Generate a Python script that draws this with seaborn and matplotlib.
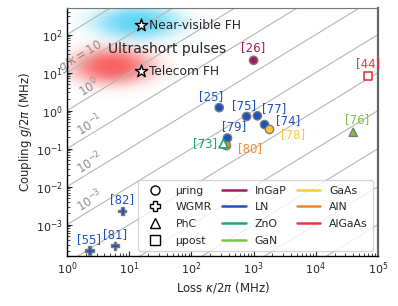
import numpy as np
import pandas as pd
import matplotlib
matplotlib.use("Agg")
import matplotlib.pyplot as plt
from matplotlib.lines import Line2D
import seaborn as sns

# ---- data ------------------------------------------------------------------
refs = ["[26]", "[44]", "[25]", "[75]", "[77]", "[74]", "[78]",
        "[79]", "[73]", "[80]", "[76]", "[82]", "[81]", "[55]"]
loss = [1000, 70000, 280, 770, 1150, 1500, 1800,
        380, 320, 365, 40000, 7.7, 5.9, 2.3]
coupling = [21, 8.2, 1.2, 0.70, 0.73, 0.43, 0.32,
            0.19, 0.14, 0.12, 0.27, 2.3e-3, 2.8e-4, 2.1e-4]
material = ["InGaP", "AlGaAs", "LN", "LN", "LN", "LN", "GaAs",
            "LN", "ZnO", "AlN", "GaN", "LN", "LN", "LN"]
platform = ["µring", "µpost", "µring", "µring", "µring", "µring", "µring",
            "µring", "PhC", "µring", "PhC", "WGMR", "WGMR", "WGMR"]
filled = [True, False, True, True, True, True, True,
          True, False, True, True, True, True, True]

targets = ["Near-visible FH", "Telecom FH"]
target_loss = [15.5, 15.5]
target_coupling = [175, 11]

ratio_exp = list(range(2, -9, -1))          # g/kappa = 10^k guide lines
ratio_labels = ["$g/\\kappa = 10$", "$10^{0}$", "$10^{-1}$", "$10^{-2}$", "$10^{-3}$"]
ratio_label_vals = [10, 1, 0.1, 0.01, 0.001]

platforms = ["µring", "WGMR", "PhC", "µpost"]
materials = ["InGaP", "LN", "ZnO", "GaN", "GaAs", "AlN", "AlGaAs"]

# ---- styling --------------------------------------------------------------
palette = {"InGaP": "#a8175f", "LN": "#1a52c0", "ZnO": "#17a86b",
           "GaN": "#7dc242", "GaAs": "#fcc93a", "AlN": "#f5852c",
           "AlGaAs": "#e8363f"}
markers = {"µring": "o", "WGMR": "P", "PhC": "^", "µpost": "s"}
label_offsets = {"[26]": (0, 9), "[44]": (0, 9), "[25]": (-6, 8), "[75]": (-2, 8),
                 "[77]": (12, 5), "[74]": (17, 3), "[78]": (17, -4),
                 "[79]": (5, 8), "[73]": (-13, 0), "[80]": (17, -2),
                 "[76]": (3, 9), "[82]": (0, 8), "[81]": (0, 8), "[55]": (0, 8)}

sns.set_style("ticks", {"xtick.direction": "in", "ytick.direction": "in"})
plt.rcParams["font.family"] = ["DejaVu Sans"]
plt.rcParams["mathtext.fontset"] = "dejavusans"

W, H = 398, 306
fig = plt.figure(figsize=(W / 100, H / 100), dpi=100)
ax_l, ax_b, ax_w, ax_h = 67 / W, 1 - 256 / H, 311 / W, 248 / H
ax = fig.add_axes([ax_l, ax_b, ax_w, ax_h])

xlim = (1, 1e5)
ylim = (1.5e-4, 500)
ax.set_xscale("log")
ax.set_yscale("log")
ax.set_xlim(*xlim)
ax.set_ylim(*ylim)

# ---- soft blobs (axes fraction image) -------------------------------------
pw, ph = ax_w * W, ax_h * H
u = np.linspace(0, 1, 500)
v = np.linspace(0, 1, 400)
U, V = np.meshgrid(u, v)


def blob(color, cx, cy, a, b, amax):
    dx = (U - (cx - 67) / pw) * pw / a
    dy = (V - (256 - cy) / ph) * ph / b
    d2 = dx ** 2 + dy ** 2
    img = np.zeros(U.shape + (4,))
    img[..., :3] = matplotlib.colors.to_rgb(color)
    img[..., 3] = amax * np.exp(-d2 ** 1.3)
    ax.imshow(img, extent=[0, 1, 0, 1], transform=ax.transAxes, origin="lower",
              aspect="auto", zorder=0, interpolation="bilinear")


blob("#5cd3f4", 137, 22, 43, 17, 0.95)
blob("#f75a5a", 112, 66, 40, 18, 0.95)
ax.set_xlim(*xlim)
ax.set_ylim(*ylim)

# ---- g/kappa guide lines ---------------------------------------------------
xs = np.array([1e-1, 1e6])
for k in ratio_exp:
    ax.plot(xs, 10.0 ** k * xs, color="#b5b5b5", lw=0.8, zorder=1)

dec_x = np.log10(xlim[1] / xlim[0])
dec_y = np.log10(ylim[1] / ylim[0])
angle = np.degrees(np.arctan((ph / dec_y) / (pw / dec_x)))
for txt, r in zip(ratio_labels, ratio_label_vals):
    xpos = 1.65 if r == 10 else 2.3
    fac = 1.6 if r == 10 else 1.8
    ax.text(xpos, r * xpos * fac, txt, rotation=angle, color="#8c8c8c",
            fontsize=8.5, ha="center", va="center", zorder=2)

# ---- data points -------------------------------------------------------------
df = pd.DataFrame({"ref": refs, "loss": loss, "coupling": coupling,
                   "material": material, "platform": platform, "filled": filled})
solid = df[df["filled"]]
sns.scatterplot(data=solid, x="loss", y="coupling", hue="material", style="platform",
                palette=palette, markers=markers, s=36, edgecolor="#7a7a7a",
                linewidth=1.0, legend=False, ax=ax, zorder=4)
for _, row in df[~df["filled"]].iterrows():
    ax.scatter(row["loss"], row["coupling"], marker=markers[row["platform"]], s=40,
               facecolor="white", edgecolor=palette[row["material"]], linewidth=1.2,
               zorder=4)

for _, row in df.iterrows():
    ax.annotate(row["ref"], (row["loss"], row["coupling"]),
                xytext=label_offsets[row["ref"]], textcoords="offset points",
                ha="center", va="center", fontsize=8.5,
                color=palette[row["material"]], zorder=5)

# ---- targets ----------------------------------------------------------------
ax.scatter(target_loss, target_coupling, marker="*", s=85, facecolor="white",
           edgecolor="black", linewidth=1.0, zorder=5)
for name, x, y in zip(targets, target_loss, target_coupling):
    ax.annotate(name, (x, y), xytext=(6, 0), textcoords="offset points",
                ha="left", va="center", fontsize=8.8, zorder=5)
ax.text(40, 43, "Ultrashort pulses", ha="center", va="center", fontsize=10, zorder=5)

# ---- axes -------------------------------------------------------------------
ax.set_xlabel("Loss $\\kappa/2\\pi$ (MHz)", fontsize=8.5, labelpad=2)
ax.set_ylabel("Coupling $g/2\\pi$ (MHz)", fontsize=8.5, labelpad=1)
ax.set_yticks([1e-3, 1e-2, 1e-1, 1e0, 1e1, 1e2])
ax.set_xticks([1e0, 1e1, 1e2, 1e3, 1e4, 1e5])
ax.tick_params(axis="both", which="major", labelsize=8, length=3.5, width=0.8,
               direction="in", pad=3)
ax.tick_params(axis="both", which="minor", length=2, width=0.6, direction="in")
for side in ["left", "bottom"]:
    ax.spines[side].set_color("black")
    ax.spines[side].set_linewidth(1.0)
ax.spines["top"].set_color("#777777")
ax.spines["top"].set_linewidth(0.8)
ax.spines["right"].set_color("#666666")
ax.spines["right"].set_linewidth(1.6)

# ---- legend -----------------------------------------------------------------
handles = [Line2D([], [], ls="none", marker=markers[p], markerfacecolor="white",
                  markeredgecolor="black", markeredgewidth=1.0, markersize=6.5,
                  label=p) for p in platforms]
handles += [Line2D([], [], color=palette[m], lw=1.8, label=m) for m in materials]
leg = ax.legend(handles=handles, loc="lower right", ncol=3, fontsize=7.8,
                frameon=True, handlelength=2.2, columnspacing=0.95,
                handletextpad=0.8, labelspacing=0.62, borderaxespad=0.45,
                borderpad=0.5)
leg.get_frame().set_edgecolor("#cccccc")
leg.set_zorder(6)

fig.savefig("out.png", dpi=100)
